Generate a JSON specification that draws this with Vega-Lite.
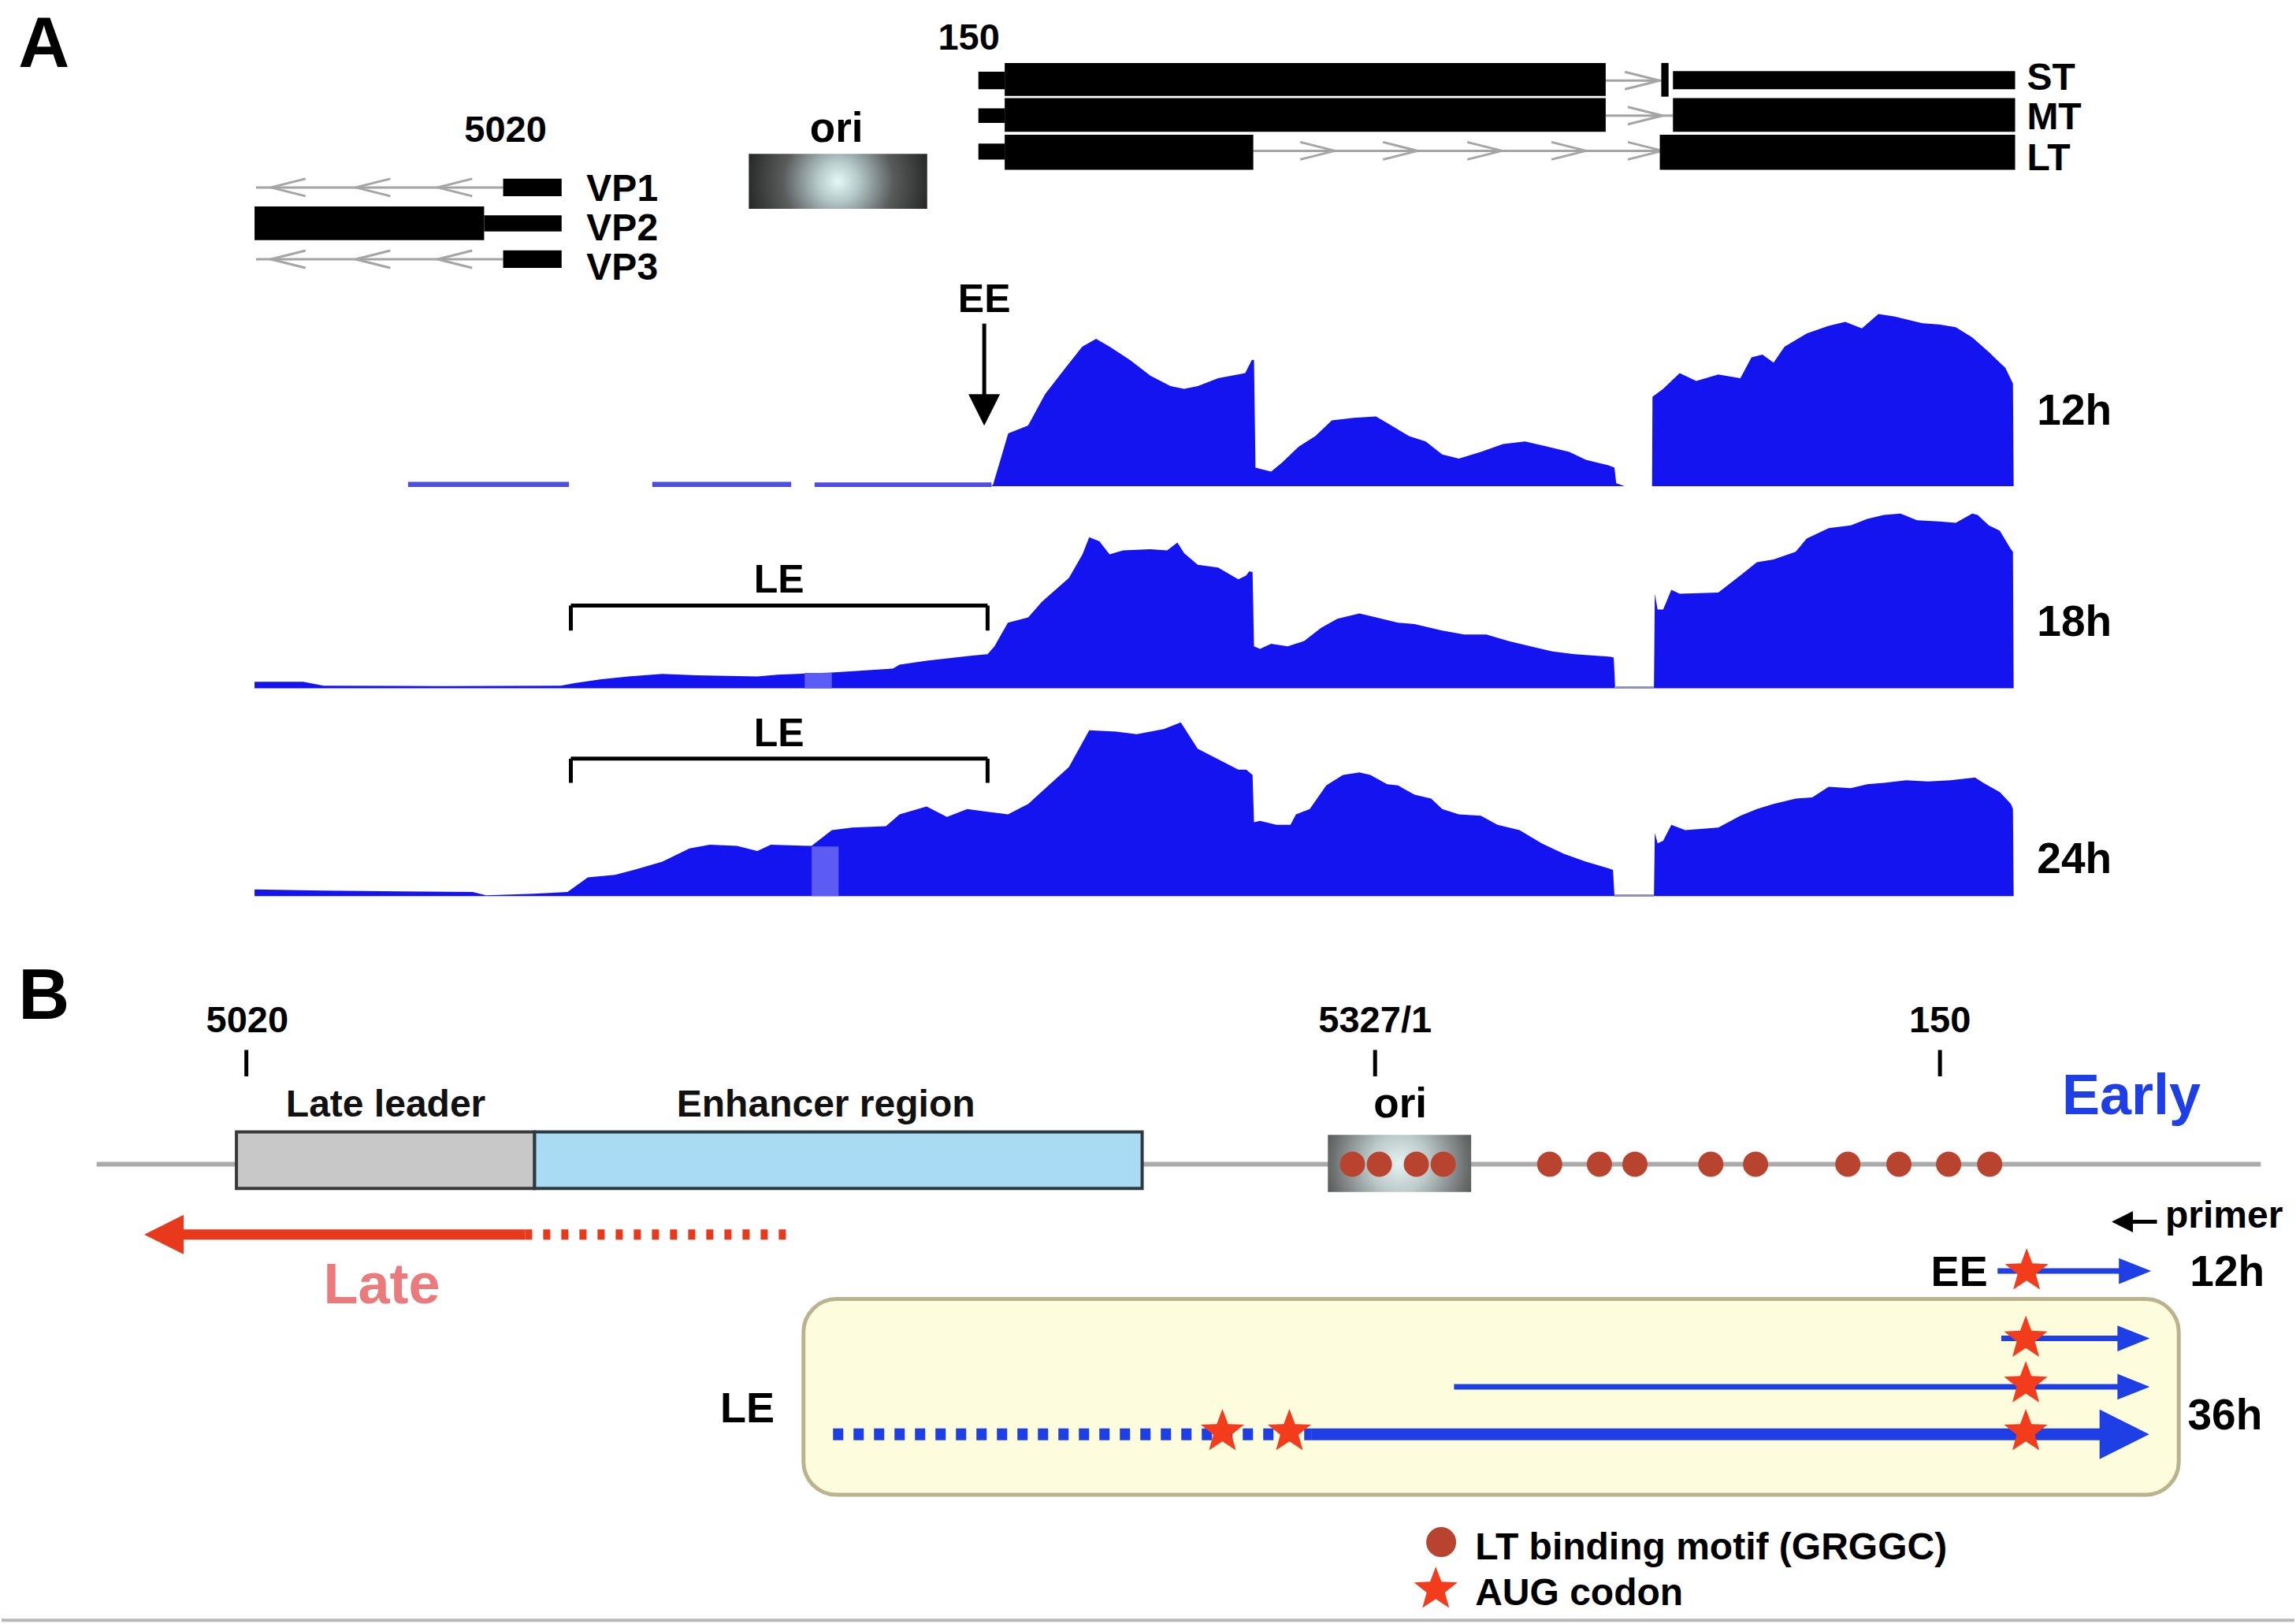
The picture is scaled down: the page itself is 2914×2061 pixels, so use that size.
{
  "$schema": "https://vega.github.io/schema/vega-lite/v6.json",
  "width": 2914,
  "height": 2061,
  "autosize": {"type": "fit", "contains": "padding"},
  "padding": 0,
  "background": "#ffffff",
  "config": {"view": {"stroke": null}, "text": {"font": "Liberation Sans", "fontWeight": "bold", "baseline": "alphabetic"}},
  "encoding": {
    "x": {"field": "x", "type": "quantitative", "axis": null, "scale": {"domain": [0, 1568], "nice": false, "zero": false}},
    "y": {"field": "y", "type": "quantitative", "axis": null, "scale": {"domain": [0, 1109], "nice": false, "zero": false, "reverse": true}}
  },
  "datasets": {
    "border": [{"x": 0, "x2": 1568, "y": 1106.5, "y2": 1106.5}],
    "cov": [
      {"seg": "12a", "x": 676.6, "y": 332, "y2": 332}, {"seg": "12a", "x": 678, "y": 331, "y2": 332}, {"seg": "12a", "x": 688.4, "y": 296, "y2": 332}, {"seg": "12a", "x": 702, "y": 290.6, "y2": 332}, {"seg": "12a", "x": 713.7, "y": 269, "y2": 332}, {"seg": "12a", "x": 727.6, "y": 251.2, "y2": 332}, {"seg": "12a", "x": 739, "y": 236.8, "y2": 332}, {"seg": "12a", "x": 748.5, "y": 231.4, "y2": 332}, {"seg": "12a", "x": 757.8, "y": 236.8, "y2": 332}, {"seg": "12a", "x": 771.6, "y": 245.8, "y2": 332}, {"seg": "12a", "x": 785.6, "y": 256.6, "y2": 332}, {"seg": "12a", "x": 799.4, "y": 263.7, "y2": 332}, {"seg": "12a", "x": 808.7, "y": 265.5, "y2": 332}, {"seg": "12a", "x": 818, "y": 263.7, "y2": 332}, {"seg": "12a", "x": 831.9, "y": 258.3, "y2": 332}, {"seg": "12a", "x": 850.5, "y": 254.8, "y2": 332}, {"seg": "12a", "x": 855, "y": 245.8, "y2": 332}, {"seg": "12a", "x": 856.5, "y": 245.8, "y2": 332}, {"seg": "12a", "x": 857.5, "y": 319.3, "y2": 332}, {"seg": "12a", "x": 868.2, "y": 322, "y2": 332}, {"seg": "12a", "x": 875.7, "y": 315.8, "y2": 332}, {"seg": "12a", "x": 887.1, "y": 305, "y2": 332}, {"seg": "12a", "x": 898.4, "y": 297.8, "y2": 332}, {"seg": "12a", "x": 909.7, "y": 287.1, "y2": 332}, {"seg": "12a", "x": 924.8, "y": 285.3, "y2": 332}, {"seg": "12a", "x": 939.9, "y": 284.4, "y2": 332}, {"seg": "12a", "x": 947.5, "y": 288.8, "y2": 332}, {"seg": "12a", "x": 962.6, "y": 297.8, "y2": 332}, {"seg": "12a", "x": 973.9, "y": 301.4, "y2": 332}, {"seg": "12a", "x": 985.2, "y": 310.4, "y2": 332}, {"seg": "12a", "x": 996.6, "y": 313.1, "y2": 332}, {"seg": "12a", "x": 1011.6, "y": 308.6, "y2": 332}, {"seg": "12a", "x": 1026.8, "y": 303.2, "y2": 332}, {"seg": "12a", "x": 1041.9, "y": 301.4, "y2": 332}, {"seg": "12a", "x": 1057, "y": 305, "y2": 332}, {"seg": "12a", "x": 1072.1, "y": 308.6, "y2": 332}, {"seg": "12a", "x": 1083.4, "y": 314, "y2": 332}, {"seg": "12a", "x": 1098.5, "y": 317.6, "y2": 332}, {"seg": "12a", "x": 1103, "y": 319.4, "y2": 332}, {"seg": "12a", "x": 1104.2, "y": 330, "y2": 332}, {"seg": "12a", "x": 1110, "y": 332, "y2": 332},
      {"seg": "12b", "x": 1128.7, "y": 332, "y2": 332}, {"seg": "12b", "x": 1129, "y": 270.9, "y2": 332}, {"seg": "12b", "x": 1136.3, "y": 265.5, "y2": 332}, {"seg": "12b", "x": 1147.6, "y": 254.8, "y2": 332}, {"seg": "12b", "x": 1158.9, "y": 260.1, "y2": 332}, {"seg": "12b", "x": 1174, "y": 255.7, "y2": 332}, {"seg": "12b", "x": 1189.1, "y": 258.3, "y2": 332}, {"seg": "12b", "x": 1196.7, "y": 244, "y2": 332}, {"seg": "12b", "x": 1204.2, "y": 242.2, "y2": 332}, {"seg": "12b", "x": 1211.8, "y": 247.6, "y2": 332}, {"seg": "12b", "x": 1219.3, "y": 236.8, "y2": 332}, {"seg": "12b", "x": 1234.4, "y": 227.8, "y2": 332}, {"seg": "12b", "x": 1249.5, "y": 222.5, "y2": 332}, {"seg": "12b", "x": 1260.8, "y": 219.8, "y2": 332}, {"seg": "12b", "x": 1272.2, "y": 224.3, "y2": 332}, {"seg": "12b", "x": 1283.5, "y": 214.4, "y2": 332}, {"seg": "12b", "x": 1294.8, "y": 216.2, "y2": 332}, {"seg": "12b", "x": 1302.4, "y": 218, "y2": 332}, {"seg": "12b", "x": 1313.7, "y": 220.7, "y2": 332}, {"seg": "12b", "x": 1325, "y": 221.6, "y2": 332}, {"seg": "12b", "x": 1336.4, "y": 223.4, "y2": 332}, {"seg": "12b", "x": 1347.7, "y": 230.5, "y2": 332}, {"seg": "12b", "x": 1359, "y": 240.4, "y2": 332}, {"seg": "12b", "x": 1370.3, "y": 251.2, "y2": 332}, {"seg": "12b", "x": 1375.5, "y": 261.9, "y2": 332}, {"seg": "12b", "x": 1376, "y": 332, "y2": 332},
      {"seg": "18a", "x": 173, "y": 465.6, "y2": 470}, {"seg": "18a", "x": 206.3, "y": 465.6, "y2": 470}, {"seg": "18a", "x": 220.2, "y": 468.3, "y2": 470}, {"seg": "18a", "x": 300, "y": 468.5, "y2": 470}, {"seg": "18a", "x": 382.4, "y": 468.3, "y2": 470}, {"seg": "18a", "x": 391.7, "y": 466.5, "y2": 470}, {"seg": "18a", "x": 410.2, "y": 463.8, "y2": 470}, {"seg": "18a", "x": 428.7, "y": 462, "y2": 470}, {"seg": "18a", "x": 451.9, "y": 460.2, "y2": 470}, {"seg": "18a", "x": 475.1, "y": 461.1, "y2": 470}, {"seg": "18a", "x": 516.8, "y": 462, "y2": 470}, {"seg": "18a", "x": 530.7, "y": 460.7, "y2": 470}, {"seg": "18a", "x": 567.8, "y": 459.3, "y2": 470}, {"seg": "18a", "x": 609.5, "y": 456.6, "y2": 470}, {"seg": "18a", "x": 614.1, "y": 453.9, "y2": 470}, {"seg": "18a", "x": 632.6, "y": 451.2, "y2": 470}, {"seg": "18a", "x": 665.1, "y": 447.6, "y2": 470}, {"seg": "18a", "x": 674.3, "y": 446.7, "y2": 470}, {"seg": "18a", "x": 679, "y": 441.3, "y2": 470}, {"seg": "18a", "x": 688.2, "y": 425.2, "y2": 470}, {"seg": "18a", "x": 702.1, "y": 421.6, "y2": 470}, {"seg": "18a", "x": 711.4, "y": 410.9, "y2": 470}, {"seg": "18a", "x": 729.9, "y": 394.7, "y2": 470}, {"seg": "18a", "x": 739.2, "y": 378.6, "y2": 470}, {"seg": "18a", "x": 743.8, "y": 366.9, "y2": 470}, {"seg": "18a", "x": 750.8, "y": 369.6, "y2": 470}, {"seg": "18a", "x": 757.7, "y": 378.6, "y2": 470}, {"seg": "18a", "x": 767, "y": 375.9, "y2": 470}, {"seg": "18a", "x": 785.5, "y": 375, "y2": 470}, {"seg": "18a", "x": 797.1, "y": 375.9, "y2": 470}, {"seg": "18a", "x": 804.1, "y": 370.5, "y2": 470}, {"seg": "18a", "x": 808.7, "y": 377.7, "y2": 470}, {"seg": "18a", "x": 818, "y": 385.7, "y2": 470}, {"seg": "18a", "x": 831.9, "y": 387.5, "y2": 470}, {"seg": "18a", "x": 845.8, "y": 395.6, "y2": 470}, {"seg": "18a", "x": 851.2, "y": 392.9, "y2": 470}, {"seg": "18a", "x": 853.1, "y": 390.2, "y2": 470}, {"seg": "18a", "x": 855.5, "y": 390.5, "y2": 470}, {"seg": "18a", "x": 856.5, "y": 441.3, "y2": 470}, {"seg": "18a", "x": 860.6, "y": 443.1, "y2": 470}, {"seg": "18a", "x": 868.2, "y": 439.6, "y2": 470}, {"seg": "18a", "x": 879.5, "y": 441.3, "y2": 470}, {"seg": "18a", "x": 890.8, "y": 437.8, "y2": 470}, {"seg": "18a", "x": 902.2, "y": 428.8, "y2": 470}, {"seg": "18a", "x": 913.5, "y": 422.5, "y2": 470}, {"seg": "18a", "x": 928.6, "y": 418.9, "y2": 470}, {"seg": "18a", "x": 939.9, "y": 421.6, "y2": 470}, {"seg": "18a", "x": 955, "y": 425.2, "y2": 470}, {"seg": "18a", "x": 966.3, "y": 426.1, "y2": 470}, {"seg": "18a", "x": 985.2, "y": 430.6, "y2": 470}, {"seg": "18a", "x": 1000.3, "y": 433.3, "y2": 470}, {"seg": "18a", "x": 1015.4, "y": 433.3, "y2": 470}, {"seg": "18a", "x": 1030.5, "y": 437.8, "y2": 470}, {"seg": "18a", "x": 1045.6, "y": 441.3, "y2": 470}, {"seg": "18a", "x": 1060.7, "y": 444.9, "y2": 470}, {"seg": "18a", "x": 1075.8, "y": 446.7, "y2": 470}, {"seg": "18a", "x": 1100.4, "y": 448.5, "y2": 470}, {"seg": "18a", "x": 1102.5, "y": 449, "y2": 470}, {"seg": "18a", "x": 1103.5, "y": 470, "y2": 470},
      {"seg": "18b", "x": 1130, "y": 470, "y2": 470}, {"seg": "18b", "x": 1130.6, "y": 405.5, "y2": 470}, {"seg": "18b", "x": 1132.5, "y": 416.2, "y2": 470}, {"seg": "18b", "x": 1136.3, "y": 416.2, "y2": 470}, {"seg": "18b", "x": 1141.9, "y": 402.8, "y2": 470}, {"seg": "18b", "x": 1147.6, "y": 405.5, "y2": 470}, {"seg": "18b", "x": 1174, "y": 404.6, "y2": 470}, {"seg": "18b", "x": 1189.1, "y": 392.9, "y2": 470}, {"seg": "18b", "x": 1200.4, "y": 383.9, "y2": 470}, {"seg": "18b", "x": 1211.8, "y": 382.1, "y2": 470}, {"seg": "18b", "x": 1226.9, "y": 376.8, "y2": 470}, {"seg": "18b", "x": 1234.4, "y": 367.8, "y2": 470}, {"seg": "18b", "x": 1249.5, "y": 360.6, "y2": 470}, {"seg": "18b", "x": 1264.6, "y": 358.8, "y2": 470}, {"seg": "18b", "x": 1275.9, "y": 354.3, "y2": 470}, {"seg": "18b", "x": 1287.3, "y": 351.6, "y2": 470}, {"seg": "18b", "x": 1298.6, "y": 350.7, "y2": 470}, {"seg": "18b", "x": 1309.9, "y": 355.3, "y2": 470}, {"seg": "18b", "x": 1325, "y": 356.1, "y2": 470}, {"seg": "18b", "x": 1336.4, "y": 357, "y2": 470}, {"seg": "18b", "x": 1347.7, "y": 350.7, "y2": 470}, {"seg": "18b", "x": 1351.4, "y": 351.6, "y2": 470}, {"seg": "18b", "x": 1359, "y": 358.8, "y2": 470}, {"seg": "18b", "x": 1366.5, "y": 362.4, "y2": 470}, {"seg": "18b", "x": 1374.1, "y": 375, "y2": 470}, {"seg": "18b", "x": 1375.5, "y": 376.8, "y2": 470}, {"seg": "18b", "x": 1376, "y": 470, "y2": 470},
      {"seg": "24a", "x": 173, "y": 607.3, "y2": 612}, {"seg": "24a", "x": 220.2, "y": 608.2, "y2": 612}, {"seg": "24a", "x": 322.2, "y": 609.1, "y2": 612}, {"seg": "24a", "x": 331.4, "y": 611.4, "y2": 612}, {"seg": "24a", "x": 363.9, "y": 610.3, "y2": 612}, {"seg": "24a", "x": 387, "y": 609.1, "y2": 612}, {"seg": "24a", "x": 400.9, "y": 599.2, "y2": 612}, {"seg": "24a", "x": 419.5, "y": 597.4, "y2": 612}, {"seg": "24a", "x": 433.4, "y": 593.8, "y2": 612}, {"seg": "24a", "x": 451.9, "y": 588.4, "y2": 612}, {"seg": "24a", "x": 470.4, "y": 579.4, "y2": 612}, {"seg": "24a", "x": 484.3, "y": 576.8, "y2": 612}, {"seg": "24a", "x": 502.9, "y": 577.7, "y2": 612}, {"seg": "24a", "x": 516.8, "y": 581.2, "y2": 612}, {"seg": "24a", "x": 526.1, "y": 576.8, "y2": 612}, {"seg": "24a", "x": 553.9, "y": 577.7, "y2": 612}, {"seg": "24a", "x": 567.8, "y": 566.9, "y2": 612}, {"seg": "24a", "x": 581.7, "y": 565.1, "y2": 612}, {"seg": "24a", "x": 604.8, "y": 564.2, "y2": 612}, {"seg": "24a", "x": 614.1, "y": 556.1, "y2": 612}, {"seg": "24a", "x": 632.6, "y": 550.7, "y2": 612}, {"seg": "24a", "x": 646.5, "y": 557.9, "y2": 612}, {"seg": "24a", "x": 660.4, "y": 552.5, "y2": 612}, {"seg": "24a", "x": 674.3, "y": 554.3, "y2": 612}, {"seg": "24a", "x": 688.2, "y": 556.1, "y2": 612}, {"seg": "24a", "x": 702.1, "y": 549, "y2": 612}, {"seg": "24a", "x": 716, "y": 536.4, "y2": 612}, {"seg": "24a", "x": 729.9, "y": 523.8, "y2": 612}, {"seg": "24a", "x": 743.8, "y": 498.7, "y2": 612}, {"seg": "24a", "x": 762.4, "y": 499.6, "y2": 612}, {"seg": "24a", "x": 776.3, "y": 501.4, "y2": 612}, {"seg": "24a", "x": 794.8, "y": 497.8, "y2": 612}, {"seg": "24a", "x": 806.4, "y": 493.3, "y2": 612}, {"seg": "24a", "x": 818, "y": 511.3, "y2": 612}, {"seg": "24a", "x": 831.9, "y": 518.5, "y2": 612}, {"seg": "24a", "x": 845.8, "y": 525.6, "y2": 612}, {"seg": "24a", "x": 851.2, "y": 525.6, "y2": 612}, {"seg": "24a", "x": 855.5, "y": 529.2, "y2": 612}, {"seg": "24a", "x": 856.5, "y": 561.5, "y2": 612}, {"seg": "24a", "x": 860.6, "y": 560.6, "y2": 612}, {"seg": "24a", "x": 871.9, "y": 563.3, "y2": 612}, {"seg": "24a", "x": 881.4, "y": 563.3, "y2": 612}, {"seg": "24a", "x": 885.2, "y": 556.1, "y2": 612}, {"seg": "24a", "x": 894.6, "y": 552.5, "y2": 612}, {"seg": "24a", "x": 905.9, "y": 536.4, "y2": 612}, {"seg": "24a", "x": 917.3, "y": 529.2, "y2": 612}, {"seg": "24a", "x": 928.6, "y": 527.4, "y2": 612}, {"seg": "24a", "x": 936.1, "y": 529.2, "y2": 612}, {"seg": "24a", "x": 947.5, "y": 535.5, "y2": 612}, {"seg": "24a", "x": 955, "y": 536.4, "y2": 612}, {"seg": "24a", "x": 966.3, "y": 542.7, "y2": 612}, {"seg": "24a", "x": 977.7, "y": 545.4, "y2": 612}, {"seg": "24a", "x": 985.2, "y": 552.5, "y2": 612}, {"seg": "24a", "x": 996.6, "y": 556.1, "y2": 612}, {"seg": "24a", "x": 1011.7, "y": 557, "y2": 612}, {"seg": "24a", "x": 1023, "y": 563.3, "y2": 612}, {"seg": "24a", "x": 1038.1, "y": 566.9, "y2": 612}, {"seg": "24a", "x": 1053.2, "y": 575.9, "y2": 612}, {"seg": "24a", "x": 1068.3, "y": 583, "y2": 612}, {"seg": "24a", "x": 1083.4, "y": 588.4, "y2": 612}, {"seg": "24a", "x": 1098.5, "y": 592.9, "y2": 612}, {"seg": "24a", "x": 1102, "y": 594, "y2": 612}, {"seg": "24a", "x": 1103, "y": 612, "y2": 612},
      {"seg": "24b", "x": 1130, "y": 612, "y2": 612}, {"seg": "24b", "x": 1130.6, "y": 568.7, "y2": 612}, {"seg": "24b", "x": 1132.5, "y": 575.9, "y2": 612}, {"seg": "24b", "x": 1136.3, "y": 574.1, "y2": 612}, {"seg": "24b", "x": 1141.9, "y": 563.3, "y2": 612}, {"seg": "24b", "x": 1151.4, "y": 566.9, "y2": 612}, {"seg": "24b", "x": 1174, "y": 565.1, "y2": 612}, {"seg": "24b", "x": 1189.1, "y": 557, "y2": 612}, {"seg": "24b", "x": 1200.4, "y": 552.5, "y2": 612}, {"seg": "24b", "x": 1211.8, "y": 549, "y2": 612}, {"seg": "24b", "x": 1226.9, "y": 545.4, "y2": 612}, {"seg": "24b", "x": 1238.2, "y": 544.5, "y2": 612}, {"seg": "24b", "x": 1249.5, "y": 537.3, "y2": 612}, {"seg": "24b", "x": 1264.6, "y": 538.2, "y2": 612}, {"seg": "24b", "x": 1275.9, "y": 535.5, "y2": 612}, {"seg": "24b", "x": 1287.3, "y": 534.6, "y2": 612}, {"seg": "24b", "x": 1302.4, "y": 532.8, "y2": 612}, {"seg": "24b", "x": 1317.5, "y": 533.7, "y2": 612}, {"seg": "24b", "x": 1332.6, "y": 532.8, "y2": 612}, {"seg": "24b", "x": 1349.6, "y": 531, "y2": 612}, {"seg": "24b", "x": 1355.2, "y": 534.6, "y2": 612}, {"seg": "24b", "x": 1366.5, "y": 540.9, "y2": 612}, {"seg": "24b", "x": 1374.1, "y": 549, "y2": 612}, {"seg": "24b", "x": 1375.5, "y": 552.5, "y2": 612}, {"seg": "24b", "x": 1376, "y": 612, "y2": 612}
    ],
    "covpatch": [{"x": 549.2, "x2": 567.8, "y": 459.5, "y2": 470}, {"x": 554, "x2": 572.4, "y": 578, "y2": 612}],
    "lowseg": [{"x": 278, "x2": 388, "y": 329, "y2": 332.5}, {"x": 445, "x2": 540, "y": 329, "y2": 332.5}, {"x": 556, "x2": 677, "y": 329.5, "y2": 332.5}],
    "gapline": [{"x": 1103, "x2": 1130, "y": 469.5, "y2": 469.5}, {"x": 1103, "x2": 1130, "y": 611.5, "y2": 611.5}],
    "introns": [
      {"x": 174, "x2": 343, "y": 128, "y2": 128}, {"x": 174, "x2": 343, "y": 177, "y2": 177},
      {"x": 1097, "x2": 1135, "y": 55, "y2": 55}, {"x": 1097, "x2": 1143, "y": 79, "y2": 79}, {"x": 856, "x2": 1134, "y": 103, "y2": 103}
    ],
    "chevL": [{"x": 196, "y": 128}, {"x": 254, "y": 128}, {"x": 310, "y": 128}, {"x": 196, "y": 177}, {"x": 254, "y": 177}, {"x": 310, "y": 177}],
    "chevR": [{"x": 900, "y": 103}, {"x": 956.6, "y": 103}, {"x": 1014.2, "y": 103}, {"x": 1071.8, "y": 103}, {"x": 1124, "y": 103}, {"x": 1122, "y": 55}, {"x": 1124, "y": 79}],
    "blocks": [
      {"x": 343, "x2": 383, "y": 122, "y2": 134}, {"x": 173, "x2": 330, "y": 141, "y2": 164}, {"x": 330, "x2": 383, "y": 147, "y2": 158}, {"x": 343, "x2": 383, "y": 171, "y2": 183},
      {"x": 668, "x2": 686, "y": 49, "y2": 61}, {"x": 686, "x2": 1097, "y": 43, "y2": 65.5}, {"x": 1135, "x2": 1140, "y": 43, "y2": 66}, {"x": 1143, "x2": 1377, "y": 48.5, "y2": 61},
      {"x": 668, "x2": 686, "y": 74, "y2": 84}, {"x": 686, "x2": 1097, "y": 67, "y2": 90}, {"x": 1143, "x2": 1377, "y": 67, "y2": 90},
      {"x": 668, "x2": 686, "y": 98, "y2": 109}, {"x": 686, "x2": 856, "y": 92, "y2": 116}, {"x": 1134, "x2": 1377, "y": 92, "y2": 116}
    ],
    "oriA": [{"x": 511, "x2": 633, "y": 105, "y2": 142.6}],
    "oriB": [{"x": 907, "x2": 1005, "y": 775, "y2": 814}],
    "blackseg": [
      {"x": 672, "x2": 672, "y": 221, "y2": 271},
      {"x": 389.3, "x2": 674.3, "y": 413.5, "y2": 413.5}, {"x": 389.3, "x2": 389.3, "y": 413.5, "y2": 430.6}, {"x": 674.3, "x2": 674.3, "y": 413.5, "y2": 430.6},
      {"x": 389.3, "x2": 674.3, "y": 518.1, "y2": 518.1}, {"x": 389.3, "x2": 389.3, "y": 518.1, "y2": 534.6}, {"x": 674.3, "x2": 674.3, "y": 518.1, "y2": 534.6},
      {"x": 167.4, "x2": 167.4, "y": 717, "y2": 735}, {"x": 939.3, "x2": 939.3, "y": 717, "y2": 735}, {"x": 1325.6, "x2": 1325.6, "y": 717, "y2": 735},
      {"x": 1452, "x2": 1474, "y": 834.3, "y2": 834.3}
    ],
    "genome": [{"x": 65, "x2": 1545, "y": 795, "y2": 795}],
    "greybox": [{"x": 160.6, "x2": 364.5, "y": 773, "y2": 811.6}],
    "bluebox": [{"x": 364.5, "x2": 780, "y": 773, "y2": 811.6}],
    "yellowbox": [{"x": 548.4, "x2": 1488.9, "y": 887.1, "y2": 1020.8}],
    "lateSolid": [{"x": 120, "x2": 358, "y": 843, "y2": 843}],
    "lateDash": [{"x": 358, "x2": 537, "y": 843, "y2": 843}],
    "blueThin": [{"x": 1365, "x2": 1450, "y": 868, "y2": 868}, {"x": 1367.5, "x2": 1450, "y": 914, "y2": 914}, {"x": 993.3, "x2": 1450, "y": 947, "y2": 947}],
    "blueThick": [{"x": 895.6, "x2": 1440, "y": 979.5, "y2": 979.5}],
    "blueDash": [{"x": 568.6, "x2": 895.6, "y": 979.5, "y2": 979.5}],
    "headLate": [{"x": 111, "y": 843}],
    "headEE": [{"x": 672, "y": 280}],
    "headBlueSmall": [{"x": 1459, "y": 868}, {"x": 1458, "y": 914}, {"x": 1458, "y": 947}],
    "headBlueBig": [{"x": 1451.7, "y": 979.5}],
    "headPrimer": [{"x": 1450.3, "y": 834.3}],
    "stars": [{"x": 1384.9, "y": 868}, {"x": 1384.3, "y": 914}, {"x": 1384.3, "y": 945}, {"x": 1384.3, "y": 977.7}, {"x": 834.9, "y": 977.7}, {"x": 880.7, "y": 977.7}, {"x": 980.8, "y": 1085.4}],
    "motifs": [{"x": 923.8, "y": 795}, {"x": 942.2, "y": 795}, {"x": 967.5, "y": 795}, {"x": 985.9, "y": 795}, {"x": 1058.7, "y": 795}, {"x": 1092.7, "y": 795}, {"x": 1117, "y": 795}, {"x": 1168.9, "y": 795}, {"x": 1199.5, "y": 795}, {"x": 1262.6, "y": 795}, {"x": 1297.5, "y": 795}, {"x": 1331.5, "y": 795}, {"x": 1359.6, "y": 795}],
    "legendDot": [{"x": 984.5, "y": 1053.1}],
    "t_panel": [{"x": 29, "y": 46, "label": "A"}, {"x": 29, "y": 696, "label": "B"}],
    "t_tick": [{"x": 661.5, "y": 34, "label": "150"}, {"x": 344.6, "y": 97, "label": "5020"}, {"x": 168, "y": 705, "label": "5020"}, {"x": 939.3, "y": 705, "label": "5327/1"}, {"x": 1325.6, "y": 705, "label": "150"}],
    "t_gene": [{"x": 400, "y": 137, "label": "VP1"}, {"x": 400, "y": 164, "label": "VP2"}, {"x": 400, "y": 191, "label": "VP3"}, {"x": 1385, "y": 61.5, "label": "ST"}, {"x": 1385, "y": 88.5, "label": "MT"}, {"x": 1385, "y": 116, "label": "LT"}],
    "t_time": [{"x": 1392, "y": 290, "label": "12h"}, {"x": 1392, "y": 434, "label": "18h"}, {"x": 1392, "y": 596, "label": "24h"}, {"x": 1496.5, "y": 878, "label": "12h"}, {"x": 1495, "y": 976, "label": "36h"}],
    "t_ori": [{"x": 571, "y": 97, "label": "ori"}, {"x": 956.5, "y": 763, "label": "ori"}],
    "t_ann": [{"x": 672, "y": 213, "label": "EE"}, {"x": 531.6, "y": 404.6, "label": "LE"}, {"x": 531.6, "y": 509.5, "label": "LE"}],
    "t_ann2": [{"x": 1338.8, "y": 878, "label": "EE"}, {"x": 510, "y": 971, "label": "LE"}],
    "t_region": [{"x": 262.7, "y": 762.5, "label": "Late leader"}, {"x": 563.7, "y": 762.5, "label": "Enhancer region"}],
    "t_late": [{"x": 260, "y": 890, "label": "Late"}],
    "t_early": [{"x": 1409, "y": 760.7, "label": "Early"}],
    "t_legend": [{"x": 1007.7, "y": 1064.7, "label": "LT binding motif (GRGGC)"}, {"x": 1007.7, "y": 1096.1, "label": "AUG codon"}, {"x": 1479.6, "y": 838.5, "label": "primer"}]
  },
  "layer": [
    {"data": {"name": "border"}, "mark": {"type": "rule", "color": "#b8b8b8", "strokeWidth": 4}, "encoding": {"x2": {"field": "x2"}, "y2": {"field": "y2"}}},
    {"data": {"name": "cov"}, "mark": {"type": "area", "color": "#1414f0", "interpolate": "linear", "opacity": 1}, "encoding": {"y2": {"field": "y2"}, "detail": {"field": "seg", "type": "nominal"}}},
    {"data": {"name": "covpatch"}, "mark": {"type": "rect", "color": "#5c5cf4"}, "encoding": {"x2": {"field": "x2"}, "y2": {"field": "y2"}}},
    {"data": {"name": "lowseg"}, "mark": {"type": "rect", "color": "#4d4de3"}, "encoding": {"x2": {"field": "x2"}, "y2": {"field": "y2"}}},
    {"data": {"name": "gapline"}, "mark": {"type": "rule", "color": "#8f8fc8", "strokeWidth": 3}, "encoding": {"x2": {"field": "x2"}, "y2": {"field": "y2"}}},
    {"data": {"name": "introns"}, "mark": {"type": "rule", "color": "#a3a3a3", "strokeWidth": 3}, "encoding": {"x2": {"field": "x2"}, "y2": {"field": "y2"}}},
    {"data": {"name": "chevL"}, "mark": {"type": "point", "shape": "M1,-0.5 L-1,0 L1,0.5", "size": 1936, "filled": false, "color": "#a5a5a5", "strokeWidth": 3, "opacity": 1}},
    {"data": {"name": "chevR"}, "mark": {"type": "point", "shape": "M-1,-0.5 L1,0 L-1,0.5", "size": 1936, "filled": false, "color": "#a5a5a5", "strokeWidth": 3, "opacity": 1}},
    {"data": {"name": "blocks"}, "mark": {"type": "rect", "color": "#000000"}, "encoding": {"x2": {"field": "x2"}, "y2": {"field": "y2"}}},
    {"data": {"name": "oriA"}, "mark": {"type": "rect", "fill": {"gradient": "radial", "x1": 0.5, "y1": 0.5, "r1": 0, "x2": 0.5, "y2": 0.5, "r2": 0.56, "stops": [{"offset": 0, "color": "#e6f8f8"}, {"offset": 0.2, "color": "#b6caca"}, {"offset": 0.55, "color": "#5a5c5c"}, {"offset": 1, "color": "#1c1c1c"}]}}, "encoding": {"x2": {"field": "x2"}, "y2": {"field": "y2"}}},
    {"data": {"name": "blackseg"}, "mark": {"type": "rule", "color": "#000000", "strokeWidth": 5}, "encoding": {"x2": {"field": "x2"}, "y2": {"field": "y2"}}},
    {"data": {"name": "headEE"}, "mark": {"type": "point", "shape": "M-1,-1 L1,-1 L0,1 Z", "size": 1600, "filled": true, "color": "#000000", "opacity": 1}},
    {"data": {"name": "genome"}, "mark": {"type": "rule", "color": "#ababab", "strokeWidth": 6}, "encoding": {"x2": {"field": "x2"}, "y2": {"field": "y2"}}},
    {"data": {"name": "greybox"}, "mark": {"type": "rect", "fill": "#c8c8c8", "stroke": "#3a3a3a", "strokeWidth": 4}, "encoding": {"x2": {"field": "x2"}, "y2": {"field": "y2"}}},
    {"data": {"name": "bluebox"}, "mark": {"type": "rect", "fill": "#a9dbf5", "stroke": "#2f3a40", "strokeWidth": 4}, "encoding": {"x2": {"field": "x2"}, "y2": {"field": "y2"}}},
    {"data": {"name": "oriB"}, "mark": {"type": "rect", "fill": {"gradient": "radial", "x1": 0.5, "y1": 0.5, "r1": 0, "x2": 0.5, "y2": 0.5, "r2": 0.58, "stops": [{"offset": 0, "color": "#e4f2f2"}, {"offset": 0.35, "color": "#bccaca"}, {"offset": 0.8, "color": "#6e7070"}, {"offset": 1, "color": "#4e4e4e"}]}}, "encoding": {"x2": {"field": "x2"}, "y2": {"field": "y2"}}},
    {"data": {"name": "motifs"}, "mark": {"type": "point", "shape": "circle", "size": 1024, "filled": true, "color": "#b8442f", "opacity": 1}},
    {"data": {"name": "lateSolid"}, "mark": {"type": "rule", "color": "#e8391d", "strokeWidth": 13}, "encoding": {"x2": {"field": "x2"}, "y2": {"field": "y2"}}},
    {"data": {"name": "lateDash"}, "mark": {"type": "rule", "color": "#e8391d", "strokeWidth": 13, "strokeDash": [9, 14]}, "encoding": {"x2": {"field": "x2"}, "y2": {"field": "y2"}}},
    {"data": {"name": "headLate"}, "mark": {"type": "point", "shape": "M1,-1 L-1,0 L1,1 Z", "size": 2500, "filled": true, "color": "#e8391d", "opacity": 1}},
    {"data": {"name": "yellowbox"}, "mark": {"type": "rect", "fill": "#fdfcdc", "stroke": "#b9b48e", "strokeWidth": 5, "cornerRadius": 42}, "encoding": {"x2": {"field": "x2"}, "y2": {"field": "y2"}}},
    {"data": {"name": "blueThin"}, "mark": {"type": "rule", "color": "#1f3fe6", "strokeWidth": 7}, "encoding": {"x2": {"field": "x2"}, "y2": {"field": "y2"}}},
    {"data": {"name": "blueThick"}, "mark": {"type": "rule", "color": "#1f3fe6", "strokeWidth": 15}, "encoding": {"x2": {"field": "x2"}, "y2": {"field": "y2"}}},
    {"data": {"name": "blueDash"}, "mark": {"type": "rule", "color": "#1f3fe6", "strokeWidth": 15, "strokeDash": [13, 13]}, "encoding": {"x2": {"field": "x2"}, "y2": {"field": "y2"}}},
    {"data": {"name": "headBlueSmall"}, "mark": {"type": "point", "shape": "M-1,-0.8 L1,0 L-1,0.8 Z", "size": 1681, "filled": true, "color": "#1f3fe6", "opacity": 1}},
    {"data": {"name": "headBlueBig"}, "mark": {"type": "point", "shape": "M-1,-1 L1,0 L-1,1 Z", "size": 3969, "filled": true, "color": "#1f3fe6", "opacity": 1}},
    {"data": {"name": "headPrimer"}, "mark": {"type": "point", "shape": "M1,-1 L-1,0 L1,1 Z", "size": 729, "filled": true, "color": "#000000", "opacity": 1}},
    {"data": {"name": "stars"}, "mark": {"type": "point", "shape": "M0,-1 L0.247,-0.34 L0.951,-0.309 L0.399,0.13 L0.588,0.809 L0,0.42 L-0.588,0.809 L-0.399,0.13 L-0.951,-0.309 L-0.247,-0.34 Z", "size": 3364, "filled": true, "color": "#f23c1c", "opacity": 1}},
    {"data": {"name": "legendDot"}, "mark": {"type": "point", "shape": "circle", "size": 1444, "filled": true, "color": "#b8442f", "opacity": 1}},
    {"data": {"name": "t_panel"}, "mark": {"type": "text", "fontSize": 90, "align": "center", "color": "#000000"}, "encoding": {"text": {"field": "label"}}},
    {"data": {"name": "t_tick"}, "mark": {"type": "text", "fontSize": 47, "align": "center", "color": "#000000"}, "encoding": {"text": {"field": "label"}}},
    {"data": {"name": "t_gene"}, "mark": {"type": "text", "fontSize": 48, "align": "left", "color": "#000000"}, "encoding": {"text": {"field": "label"}}},
    {"data": {"name": "t_time"}, "mark": {"type": "text", "fontSize": 55, "align": "left", "color": "#000000"}, "encoding": {"text": {"field": "label"}}},
    {"data": {"name": "t_ori"}, "mark": {"type": "text", "fontSize": 53, "align": "center", "color": "#000000"}, "encoding": {"text": {"field": "label"}}},
    {"data": {"name": "t_ann"}, "mark": {"type": "text", "fontSize": 50, "align": "center", "color": "#000000"}, "encoding": {"text": {"field": "label"}}},
    {"data": {"name": "t_ann2"}, "mark": {"type": "text", "fontSize": 54, "align": "center", "color": "#000000"}, "encoding": {"text": {"field": "label"}}},
    {"data": {"name": "t_region"}, "mark": {"type": "text", "fontSize": 48, "align": "center", "color": "#111111"}, "encoding": {"text": {"field": "label"}}},
    {"data": {"name": "t_late"}, "mark": {"type": "text", "fontSize": 72, "align": "center", "color": "#ea7a7c"}, "encoding": {"text": {"field": "label"}}},
    {"data": {"name": "t_early"}, "mark": {"type": "text", "fontSize": 72, "align": "left", "color": "#1e3ee6"}, "encoding": {"text": {"field": "label"}}},
    {"data": {"name": "t_legend"}, "mark": {"type": "text", "fontSize": 48, "align": "left", "color": "#000000"}, "encoding": {"text": {"field": "label"}}}
  ]
}
